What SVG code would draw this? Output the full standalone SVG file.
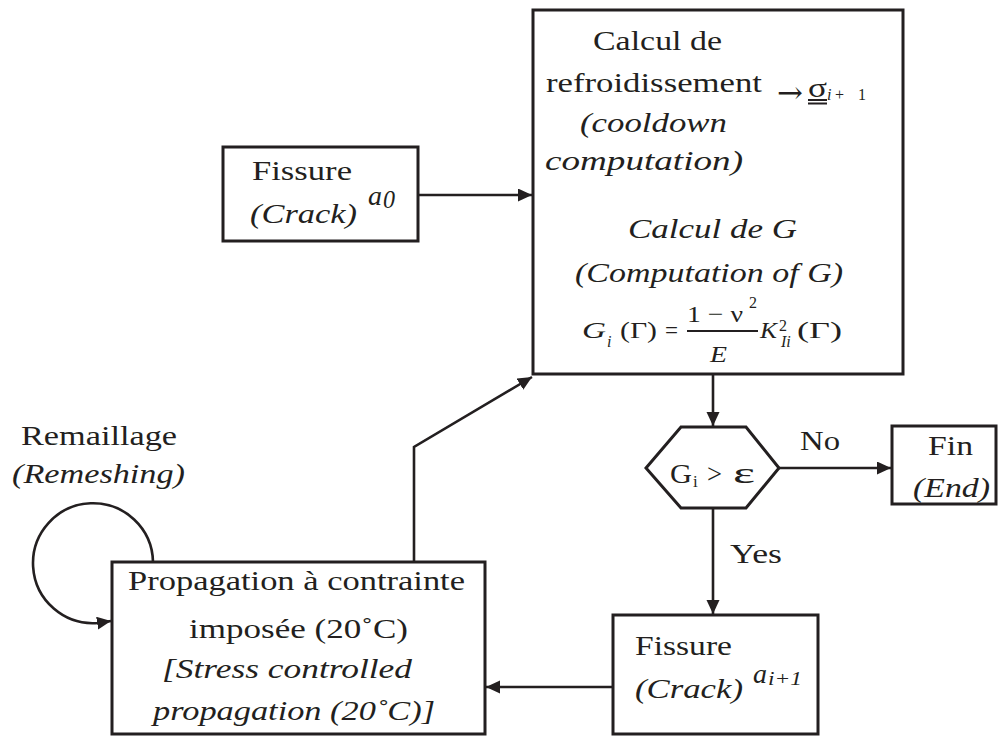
<svg xmlns="http://www.w3.org/2000/svg" width="1000" height="736" viewBox="0 0 1000 736">
<defs>
<style>
.box{fill:#fff;stroke:#231f20;stroke-width:3}
.con{fill:none;stroke:#231f20;stroke-width:2.6}
text{font-family:"Liberation Serif","Times New Roman",serif;fill:#231f20;font-size:28px}
.it{font-style:italic}
.sm{font-size:16px}
.fm{font-size:24px}
</style>
<marker id="ah" markerUnits="userSpaceOnUse" markerWidth="16" markerHeight="14" refX="14" refY="6.5" orient="auto">
<path d="M0,0 L14,6.5 L0,13 z" fill="#231f20"/>
</marker>
</defs>
<rect width="1000" height="736" fill="#fff"/>

<g id="connectors">
<line class="con" x1="418" y1="195" x2="532" y2="195" marker-end="url(#ah)"/>
<line class="con" x1="713" y1="374" x2="713" y2="426" marker-end="url(#ah)"/>
<line class="con" x1="779" y1="468" x2="891" y2="468" marker-end="url(#ah)"/>
<line class="con" x1="713" y1="508" x2="713" y2="614" marker-end="url(#ah)"/>
<line class="con" x1="613" y1="687" x2="486" y2="687" marker-end="url(#ah)"/>
<polyline class="con" points="414,562 414,447 532,377" marker-end="url(#ah)"/>
<path class="con" d="M153,562 A60,60 0 1 0 98,623 L111,621" marker-end="url(#ah)"/>
</g>

<g id="main">
<rect class="box" x="533" y="10" width="370" height="364"/>
<text x="593" y="50" textLength="129" lengthAdjust="spacingAndGlyphs">Calcul de</text>
<text x="546" y="92" textLength="216" lengthAdjust="spacingAndGlyphs">refroidissement</text>
<text class="it" x="580" y="132" textLength="147" lengthAdjust="spacingAndGlyphs">(cooldown</text>
<text class="it" x="545" y="170" textLength="198" lengthAdjust="spacingAndGlyphs">computation)</text>
<text x="777" y="103" style="font-family:'DejaVu Serif',serif;font-size:30px" textLength="26" lengthAdjust="spacingAndGlyphs">→</text>
<text x="808" y="97" textLength="19" lengthAdjust="spacingAndGlyphs">σ</text>
<line x1="808" y1="100" x2="827" y2="100" stroke="#231f20" stroke-width="2"/>
<line x1="808" y1="103.5" x2="827" y2="103.5" stroke="#231f20" stroke-width="2"/>
<text class="sm it" x="827" y="100">i</text>
<text class="sm" x="835" y="100">+</text>
<text class="sm" x="858" y="100">1</text>
<text class="it" x="628" y="238" textLength="169" lengthAdjust="spacingAndGlyphs">Calcul de G</text>
<text class="it" x="575" y="282" textLength="268" lengthAdjust="spacingAndGlyphs">(Computation of G)</text>
<text class="fm it" x="582" y="338" textLength="24" lengthAdjust="spacingAndGlyphs">G</text>
<text class="sm it" x="607" y="347">i</text>
<text class="fm" x="620" y="338" textLength="37" lengthAdjust="spacingAndGlyphs">(Γ)</text>
<text class="fm" x="665" y="338" textLength="13" lengthAdjust="spacingAndGlyphs">=</text>
<text class="fm" x="687" y="322" textLength="56" lengthAdjust="spacingAndGlyphs">1 − ν</text>
<text class="sm" x="749" y="308">2</text>
<line x1="687" y1="331" x2="758" y2="331" stroke="#231f20" stroke-width="2"/>
<text class="fm it" x="710" y="362" textLength="17" lengthAdjust="spacingAndGlyphs">E</text>
<text class="fm it" x="760" y="338" textLength="17" lengthAdjust="spacingAndGlyphs">K</text>
<text class="sm" x="779" y="331">2</text>
<text class="sm it" x="781" y="347">Ii</text>
<text class="fm" x="797" y="338" textLength="45" lengthAdjust="spacingAndGlyphs">(Γ)</text>
</g>

<g id="fissure0">
<rect class="box" x="223" y="147" width="195" height="94"/>
<text x="252" y="180" textLength="100" lengthAdjust="spacingAndGlyphs">Fissure</text>
<text class="it" x="250" y="223" textLength="107" lengthAdjust="spacingAndGlyphs">(Crack)</text>
<text class="it" x="368" y="205" textLength="14" lengthAdjust="spacingAndGlyphs">a</text>
<text class="it" x="383" y="208" style="font-size:25px" textLength="12" lengthAdjust="spacingAndGlyphs">0</text>
</g>

<g id="decision">
<polygon class="box" points="646,468 681,427 746,427 779,468 746,508 681,508"/>
<text x="670" y="483" textLength="22" lengthAdjust="spacingAndGlyphs">G</text>
<text x="693" y="487" style="font-size:17px">i</text>
<text x="707" y="483" textLength="15" lengthAdjust="spacingAndGlyphs">&gt;</text>
<text x="733" y="483" style="font-size:30px" textLength="22" lengthAdjust="spacingAndGlyphs">ε</text>
</g>

<g id="labels">
<text x="800" y="450" textLength="40" lengthAdjust="spacingAndGlyphs">No</text>
<text x="730" y="563" textLength="52" lengthAdjust="spacingAndGlyphs">Yes</text>
<text x="21" y="445" textLength="156" lengthAdjust="spacingAndGlyphs">Remaillage</text>
<text class="it" x="12" y="483" textLength="173" lengthAdjust="spacingAndGlyphs">(Remeshing)</text>
</g>

<g id="fin">
<rect class="box" x="892" y="426" width="104" height="78"/>
<text x="928" y="455" textLength="45" lengthAdjust="spacingAndGlyphs">Fin</text>
<text class="it" x="913" y="497" textLength="77" lengthAdjust="spacingAndGlyphs">(End)</text>
</g>

<g id="fissure1">
<rect class="box" x="613" y="615" width="205" height="119"/>
<text x="635" y="655" textLength="97" lengthAdjust="spacingAndGlyphs">Fissure</text>
<text class="it" x="635" y="698" textLength="108" lengthAdjust="spacingAndGlyphs">(Crack)</text>
<text class="it" x="753" y="683" textLength="14" lengthAdjust="spacingAndGlyphs">a</text>
<text class="it" x="768" y="685" style="font-size:18px" textLength="34" lengthAdjust="spacingAndGlyphs">i+1</text>
</g>

<g id="propagation">
<rect class="box" x="112" y="562" width="373" height="172"/>
<text x="128" y="590" textLength="337" lengthAdjust="spacingAndGlyphs">Propagation à contrainte</text>
<text x="189" y="638" textLength="219" lengthAdjust="spacingAndGlyphs">imposée (20˚C)</text>
<text class="it" x="162" y="678" textLength="250" lengthAdjust="spacingAndGlyphs">[Stress controlled</text>
<text class="it" x="153" y="720" textLength="282" lengthAdjust="spacingAndGlyphs">propagation (20˚C)]</text>
</g>
</svg>
